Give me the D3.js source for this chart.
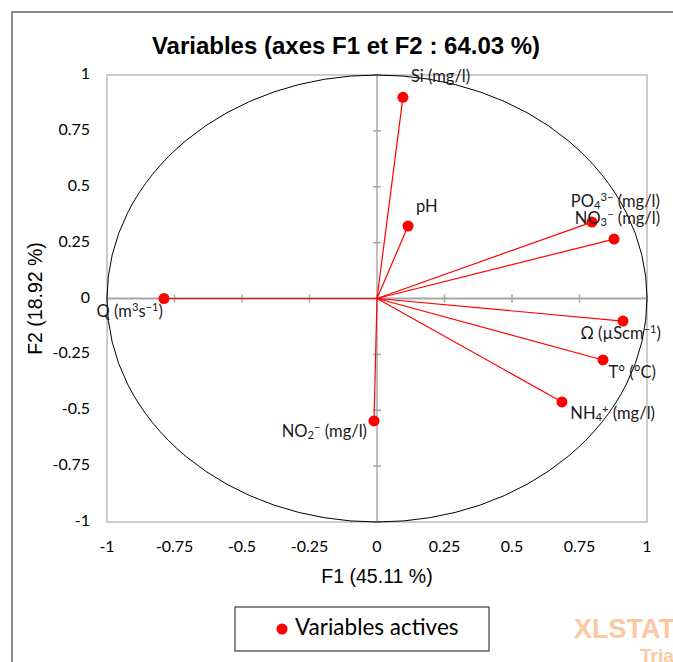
<!DOCTYPE html>
<html>
<head>
<meta charset="utf-8">
<script src="https://cdn.jsdelivr.net/npm/d3@7"></script>
<style>
  html, body { margin: 0; padding: 0; background: #fff; }
  svg { display: block; }
</style>
</head>
<body>
<svg id="chart" width="673" height="662"></svg>
<script>
// Correlation circle: active variables projected on F1 / F2
const variables = [
  "Si (mg/l)", "pH", "PO_{4}^{3−} (mg/l)", "NO_{3}^{−} (mg/l)",
  "Ω (µScm^{−1})", "T° (°C)", "NH_{4}^{+} (mg/l)", "Q (m^{3}s^{−1})", "NO_{2}^{−} (mg/l)"
];
const f1 = [0.096, 0.115, 0.796, 0.878, 0.911, 0.837, 0.685, -0.789, -0.011];
const f2 = [0.900, 0.324, 0.342, 0.266, -0.101, -0.275, -0.463, 0.000, -0.548];
const tickValues = [-1, -0.75, -0.5, -0.25, 0, 0.25, 0.5, 0.75, 1];
const tickLabels = ["-1", "-0.75", "-0.5", "-0.25", "0", "0.25", "0.5", "0.75", "1"];
const chartTitle = "Variables (axes F1 et F2 : 64.03 %)";
const xTitle = "F1 (45.11 %)";
const yTitle = "F2 (18.92 %)";
const legendLabel = "Variables actives";

// label placement around each point: anchor and pixel offset of the text centre line
const labelPlacement = [
  { anchor: "start", dx: 8,   dy: -19 },
  { anchor: "start", dx: 8,   dy: -18 },
  { anchor: "end",   dx: 68,  dy: -19 },
  { anchor: "end",   dx: 46,  dy: -19 },
  { anchor: "end",   dx: 38,  dy: 14 },
  { anchor: "end",   dx: 53,  dy: 14 },
  { anchor: "end",   dx: 93,  dy: 13 },
  { anchor: "end",   dx: -1,  dy: 14 },
  { anchor: "end",   dx: -7,  dy: 12 }
];

const svg = d3.select("#chart");
const plot = { left: 107, right: 647, top: 75, bottom: 522 };
const x = d3.scaleLinear().domain([-1, 1]).range([plot.left, plot.right]);
const y = d3.scaleLinear().domain([-1, 1]).range([plot.bottom, plot.top]);

const labelFont = "Lato, 'Open Sans', sans-serif";
const arialFont = "'Liberation Sans', Arial, sans-serif";
const red = "#ff0000";

// outer chart frame
svg.append("path")
  .attr("d", "M12,662 V12 H673")
  .attr("fill", "none").attr("stroke", "#8c8c8c").attr("stroke-width", 2);

// plot area border
svg.append("rect")
  .attr("x", plot.left).attr("y", plot.top)
  .attr("width", plot.right - plot.left).attr("height", plot.bottom - plot.top)
  .attr("fill", "none").attr("stroke", "#cccccc").attr("stroke-width", 2);

// zero axes with their cross ticks
svg.append("line")
  .attr("x1", x(-1)).attr("x2", x(1)).attr("y1", y(0)).attr("y2", y(0))
  .attr("stroke", "#a6a6a6").attr("stroke-width", 2);
svg.append("line")
  .attr("x1", x(0)).attr("x2", x(0)).attr("y1", y(-1)).attr("y2", y(1))
  .attr("stroke", "#bfbfbf").attr("stroke-width", 2);
svg.append("g").selectAll("line").data(tickValues).join("line")
  .attr("x1", d => x(d)).attr("x2", d => x(d))
  .attr("y1", y(0) - 4).attr("y2", y(0) + 4)
  .attr("stroke", "#a6a6a6").attr("stroke-width", 1.5);
svg.append("g").selectAll("line").data(tickValues).join("line")
  .attr("x1", x(0) - 4).attr("x2", x(0) + 4)
  .attr("y1", d => y(d)).attr("y2", d => y(d))
  .attr("stroke", "#a6a6a6").attr("stroke-width", 1.5);

// unit circle
svg.append("ellipse")
  .attr("cx", x(0)).attr("cy", y(0))
  .attr("rx", x(1) - x(0)).attr("ry", y(0) - y(1))
  .attr("fill", "none").attr("stroke", "#000").attr("stroke-width", 1);

// tick labels
svg.append("g").selectAll("text").data(tickValues).join("text")
  .attr("x", d => x(d)).attr("y", 548)
  .attr("text-anchor", "middle").attr("dominant-baseline", "middle")
  .attr("font-family", labelFont).attr("font-size", 16).attr("fill", "#000")
  .text((d, i) => tickLabels[i]);
svg.append("g").selectAll("text").data(tickValues).join("text")
  .attr("x", 90).attr("y", d => y(d))
  .attr("text-anchor", "end").attr("dominant-baseline", "middle")
  .attr("font-family", labelFont).attr("font-size", 16).attr("fill", "#000")
  .text((d, i) => tickLabels[i]);

// titles
svg.append("text")
  .attr("x", 346).attr("y", 48)
  .attr("text-anchor", "middle").attr("dominant-baseline", "middle")
  .attr("font-family", arialFont)
  .attr("font-weight", "bold").attr("font-size", 24)
  .text(chartTitle);
svg.append("text")
  .attr("x", x(0)).attr("y", 578)
  .attr("text-anchor", "middle").attr("dominant-baseline", "middle")
  .attr("font-family", arialFont)
  .attr("font-size", 19.5).text(xTitle);
svg.append("text")
  .attr("transform", `translate(37,${y(0)}) rotate(-90)`)
  .attr("text-anchor", "middle").attr("dominant-baseline", "middle")
  .attr("font-family", arialFont)
  .attr("font-size", 19.5).text(yTitle);

// vectors from the origin
const rows = variables.map((name, i) => ({ name, fx: f1[i], fy: f2[i], place: labelPlacement[i] }));
svg.append("g").selectAll("line").data(rows).join("line")
  .attr("x1", x(0)).attr("y1", y(0))
  .attr("x2", d => x(d.fx)).attr("y2", d => y(d.fy))
  .attr("stroke", red).attr("stroke-width", 1.2);
svg.append("g").selectAll("circle").data(rows).join("circle")
  .attr("cx", d => x(d.fx)).attr("cy", d => y(d.fy)).attr("r", 5.5)
  .attr("fill", red);

// render "_{sub}" and "^{sup}" markup as tspans
function richText(sel, str) {
  const re = /([_^])\{([^}]*)\}|([^_^]+)/g;
  let m;
  while ((m = re.exec(str)) !== null) {
    if (m[3] !== undefined) {
      sel.append("tspan").text(m[3]);
    } else {
      sel.append("tspan")
        .attr("baseline-shift", m[1] === "_" ? "-25%" : "40%")
        .attr("font-size", "68%")
        .text(m[2]);
    }
  }
}

svg.append("g").selectAll("text").data(rows).join("text")
  .attr("x", d => x(d.fx) + d.place.dx)
  .attr("y", d => y(d.fy) + d.place.dy)
  .attr("text-anchor", d => d.place.anchor)
  .attr("dominant-baseline", "middle")
  .attr("font-family", labelFont).attr("font-size", 16.5).attr("fill", "#1a1a1a")
  .each(function (d) { richText(d3.select(this), d.name); });

// legend
const legend = svg.append("g");
legend.append("rect")
  .attr("x", 235).attr("y", 607).attr("width", 254).attr("height", 44)
  .attr("fill", "#fff").attr("stroke", "#3c3c3c").attr("stroke-width", 1.2);
legend.append("circle").attr("cx", 282).attr("cy", 629).attr("r", 5.5).attr("fill", red);
legend.append("text")
  .attr("x", 295).attr("y", 629).attr("dominant-baseline", "middle")
  .attr("font-family", labelFont).attr("font-size", 22.5).attr("fill", "#000")
  .text(legendLabel);

// trial watermark
svg.append("text")
  .attr("x", 574).attr("y", 638)
  .attr("font-family", arialFont)
  .attr("font-weight", "bold").attr("font-size", 27).attr("fill", "#fcc7a2")
  .text("XLSTAT");
svg.append("text")
  .attr("x", 640).attr("y", 662)
  .attr("font-family", arialFont)
  .attr("font-weight", "bold").attr("font-size", 19).attr("fill", "#fcc7a2")
  .text("Trial");
</script>
</body>
</html>
